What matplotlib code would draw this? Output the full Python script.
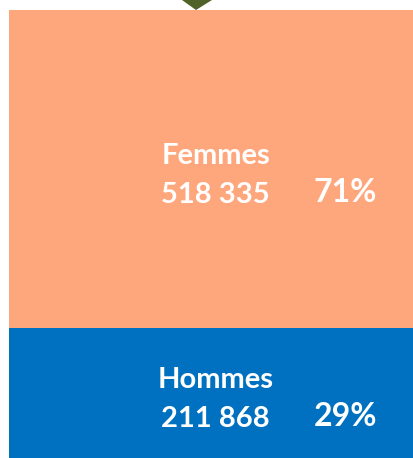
import matplotlib
matplotlib.use('Agg')
import matplotlib.pyplot as plt
from matplotlib.patches import Polygon

# population by sex
categories = ['Hommes', 'Femmes']
counts = [211868, 518335]
count_labels = ['211 868', '518 335']
colors = ['#0070C0', '#FFA77C']

total = sum(counts)
pcts = [round(100 * c / total) for c in counts]

plt.rcParams['font.family'] = ['Lato', 'DejaVu Sans']

fig = plt.figure(figsize=(4.14, 4.58), dpi=100)
ax = fig.add_axes([9 / 414, 0, 405 / 414, 448 / 458])

bottom = 0
for name, c, lab, col, p in zip(categories, counts, count_labels, colors, pcts):
    ax.bar(0, c, bottom=bottom, width=1, color=col, linewidth=0)
    mid = bottom + c / 2
    style = dict(textcoords='offset points', ha='center', va='center',
                 color='white', fontweight='bold')
    ax.annotate(name, xy=(0.01, mid), xytext=(0, 9.5), fontsize=21, **style)
    ax.annotate(lab, xy=(0.01, mid), xytext=(0, -19), fontsize=21, **style)
    ax.annotate(f'{p}%', xy=(0.33, mid), xytext=(0, -17), fontsize=23, **style)
    bottom += c

ax.set_xlim(-0.5, 0.5)
ax.set_ylim(0, total)
ax.axis('off')

# small marker at the top
tri = Polygon([[182 / 414, 1], [212 / 414, 1], [196 / 414, 448 / 458]], closed=True,
              transform=fig.transFigure, color='#4F6228', linewidth=0)
fig.patches.append(tri)

fig.savefig('out.png', dpi=100)
